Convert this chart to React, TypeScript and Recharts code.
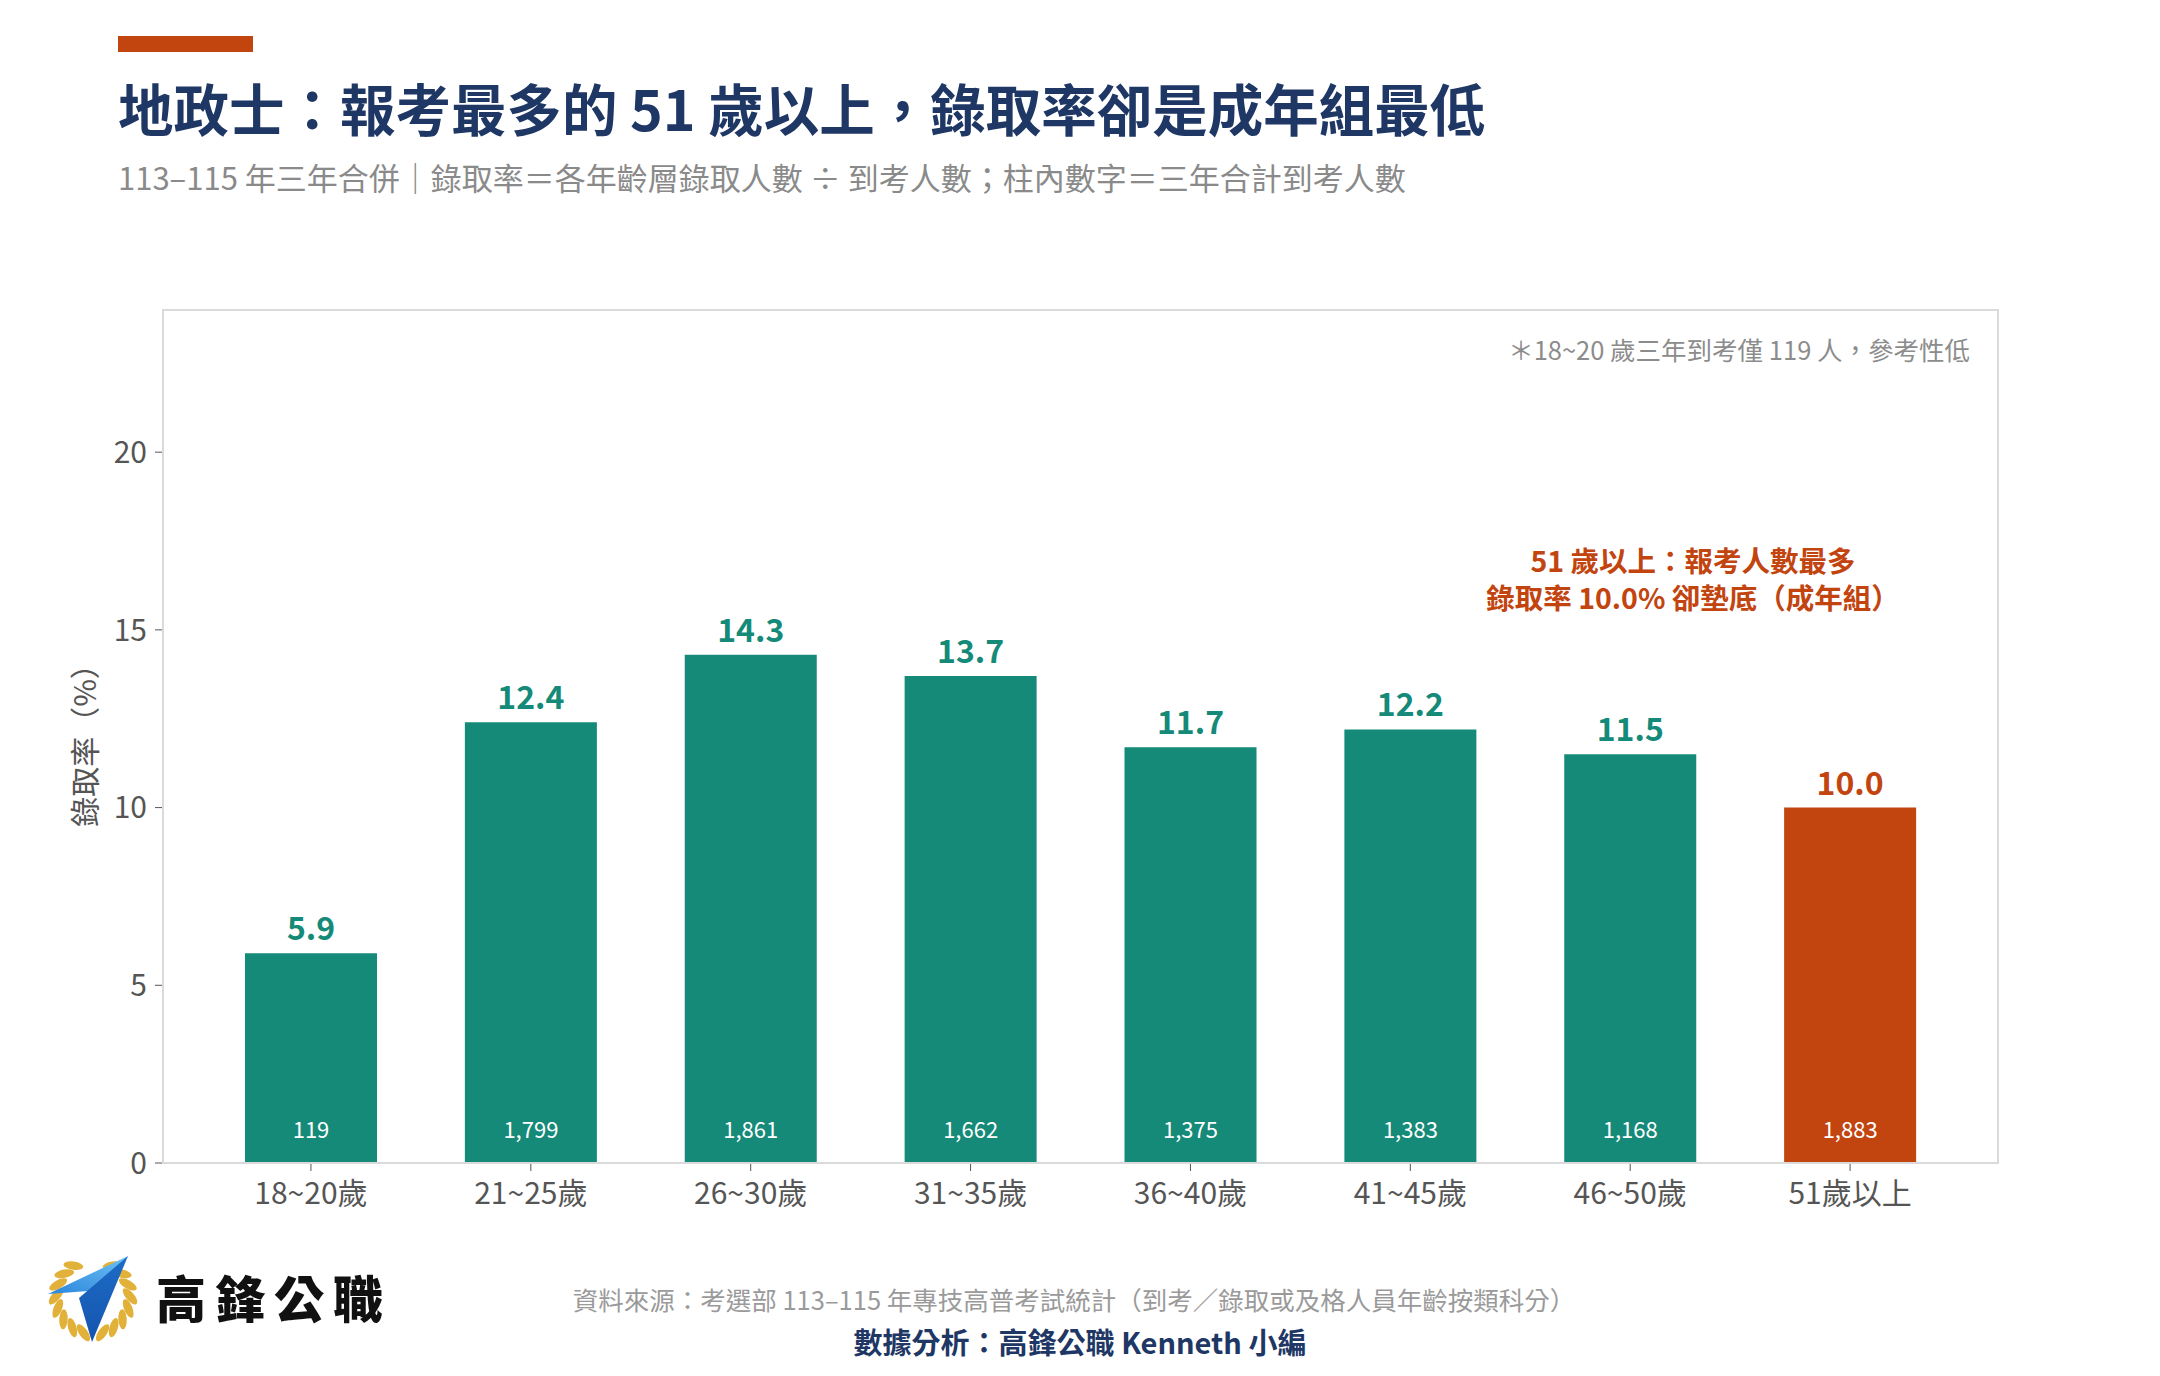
import { Bar, BarChart, Cell, LabelList, XAxis, YAxis } from "recharts";

const ageGroups = ["18~20歲", "21~25歲", "26~30歲", "31~35歲", "36~40歲", "41~45歲", "46~50歲", "51歲以上"];
const passRates = [5.9, 12.4, 14.3, 13.7, 11.7, 12.2, 11.5, 10.0];
const examinees = [119, 1799, 1861, 1662, 1375, 1383, 1168, 1883];
const yTicks = [0, 5, 10, 15, 20];
const highlightGroup = "51歲以上";

const FONT = '"Noto Sans CJK TC", "Noto Sans", sans-serif';
const TEAL = "#158a78";
const ORANGE = "#c2440f";
const NAVY = "#1e3765";
const FRAME = "#dadada";

const data = ageGroups.map((group, i) => ({
  group,
  rate: passRates[i],
  count: examinees[i],
}));

function colorFor(group: string) {
  return group === highlightGroup ? ORANGE : TEAL;
}

function RateLabel(props: any) {
  const { x, y, width, value, index } = props;
  return (
    <text
      x={x + width / 2}
      y={y - 13}
      textAnchor="middle"
      fontFamily={FONT}
      fontSize={32}
      fontWeight={700}
      fill={colorFor(ageGroups[index])}
    >
      {Number(value).toFixed(1)}
    </text>
  );
}

function CountLabel(props: any) {
  const { x, y, width, height, value } = props;
  return (
    <text
      x={x + width / 2}
      y={y + height - 25}
      textAnchor="middle"
      fontFamily={FONT}
      fontSize={22}
      fill="#ffffff"
    >
      {Number(value).toLocaleString("en-US")}
    </text>
  );
}

// 月桂葉 + 藍色勾勾
function Logo() {
  const cx = 93;
  const cy = 1297;
  const r = 37;
  const leaves: any[] = [];
  for (let i = 0; i < 8; i++) {
    [1, -1].forEach((s) => {
      const deg = s === 1 ? 105 + i * 19 : 75 - i * 19;
      const a = (deg * Math.PI) / 180;
      const lx = cx + r * Math.cos(a);
      const ly = cy + r * Math.sin(a);
      const rot = deg + 90 + s * 40;
      leaves.push(
        <ellipse
          key={`${s}-${i}`}
          cx={lx}
          cy={ly}
          rx={10}
          ry={4.2}
          fill="#e2b13a"
          transform={`rotate(${rot} ${lx} ${ly})`}
        />
      );
    });
  }
  return (
    <g>
      <defs>
        <linearGradient id="blade1" x1="0" y1="1" x2="1" y2="0">
          <stop offset="0%" stopColor="#2a86dc" />
          <stop offset="100%" stopColor="#6fc0f3" />
        </linearGradient>
        <linearGradient id="blade2" x1="0" y1="0" x2="0" y2="1">
          <stop offset="0%" stopColor="#1d6cc7" />
          <stop offset="100%" stopColor="#1554ad" />
        </linearGradient>
      </defs>
      {leaves}
      <polygon points="48,1294 128,1256 102,1290" fill="url(#blade1)" />
      <polygon points="79,1298 128,1256 92,1342" fill="url(#blade2)" />
    </g>
  );
}

export default function App() {
  return (
    <div
      style={{
        position: "absolute",
        left: 0,
        top: 0,
        width: 2160,
        height: 1376,
        background: "#ffffff",
        fontFamily: FONT,
      }}
    >
      <BarChart
        width={2160}
        height={1376}
        data={data}
        margin={{ top: 310, right: 162, bottom: 153, left: 103 }}
      >
        <XAxis
          dataKey="group"
          padding={{ left: 38, right: 38 }}
          height={60}
          axisLine={{ stroke: FRAME, strokeWidth: 2 }}
          tickLine={{ stroke: "#555" }}
          tickSize={8}
          tickMargin={12}
          tick={{ fill: "#555", fontSize: 30, fontFamily: FONT }}
          interval={0}
        />
        <YAxis
          domain={[0, 24]}
          ticks={yTicks}
          width={60}
          axisLine={{ stroke: FRAME, strokeWidth: 2 }}
          tickLine={{ stroke: "#555" }}
          tickSize={8}
          tickMargin={8}
          tick={{ fill: "#555", fontSize: 30, fontFamily: FONT }}
        />
        <Bar dataKey="rate" barSize={132} isAnimationActive={false}>
          {data.map((d) => (
            <Cell key={d.group} fill={colorFor(d.group)} />
          ))}
          <LabelList dataKey="rate" content={RateLabel} />
          <LabelList dataKey="count" content={CountLabel} />
        </Bar>
      </BarChart>

      <svg
        width={2160}
        height={1376}
        style={{ position: "absolute", left: 0, top: 0, pointerEvents: "none" }}
        fontFamily={FONT}
      >
        {/* 圖框 */}
        <rect x={163} y={310} width={1835} height={853} fill="none" stroke={FRAME} strokeWidth={2} />

        <rect x={118} y={36} width={135} height={16} fill={ORANGE} />
        <text x={118} y={131} fontSize={55.5} fontWeight={700} fill={NAVY}>
          地政士：報考最多的 51 歲以上，錄取率卻是成年組最低
        </text>
        <text x={118} y={190} fontSize={31} fill="#8a8a8a">
          113–115 年三年合併｜錄取率＝各年齡層錄取人數 ÷ 到考人數；柱內數字＝三年合計到考人數
        </text>

        <text x={1970} y={360} fontSize={25.5} fill="#8c8c8c" textAnchor="end">
          ＊18~20 歲三年到考僅 119 人，參考性低
        </text>
        <text x={1693} y={572} fontSize={28.5} fontWeight={700} fill={ORANGE} textAnchor="middle">
          51 歲以上：報考人數最多
        </text>
        <text x={1693} y={609} fontSize={28.5} fontWeight={700} fill={ORANGE} textAnchor="middle">
          錄取率 10.0% 卻墊底（成年組）
        </text>

        <text
          x={83}
          y={738}
          fontSize={30}
          fill="#555"
          textAnchor="middle"
          dominantBaseline="central"
          transform="rotate(-90 83 738)"
        >
          錄取率（%）
        </text>

        <Logo />
        <text x={156} y={1318} fontSize={50} fontWeight={900} fill="#111" letterSpacing={9}>
          高鋒公職
        </text>
        <text x={1074} y={1310} fontSize={25.5} fill="#9a9a9a" textAnchor="middle">
          資料來源：考選部 113–115 年專技高普考試統計（到考／錄取或及格人員年齡按類科分）
        </text>
        <text x={1080} y={1354} fontSize={29} fontWeight={700} fill={NAVY} textAnchor="middle">
          數據分析：高鋒公職 Kenneth 小編
        </text>
      </svg>
    </div>
  );
}
